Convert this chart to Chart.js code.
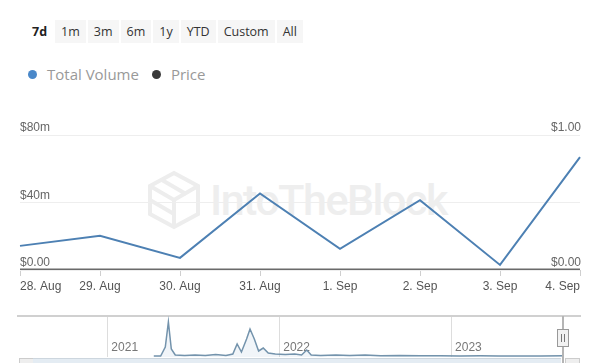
<!DOCTYPE html>
<html>
<head>
<meta charset="utf-8">
<script src="https://cdn.jsdelivr.net/npm/chart.js@4.4.1/dist/chart.umd.min.js"></script>
<style>
  html, body { margin: 0; padding: 0; background: #fff; }
  body { width: 600px; height: 363px; position: relative; overflow: hidden; font-family: "Open Sans", sans-serif; }
  .ranges { position: absolute; left: 26px; top: 20px; display: flex; gap: 2px; }
  .ranges span { display: block; height: 23px; line-height: 23px; padding: 0 6px; background: #f6f6f6; font-size: 12.5px; color: #333; }
  .ranges span.on { font-weight: bold; color: #222; background: #fff; }
  .legend { position: absolute; left: 28px; top: 64px; display: flex; align-items: center; font-size: 15px; color: #999; }
  .legend i { display: inline-block; width: 9px; height: 9px; border-radius: 50%; margin-right: 10px; }
  .watermark { position: absolute; left: 146px; top: 170px; display: flex; align-items: center; color: #eeeeee; font-family: Roboto, sans-serif; font-weight: 500; font-size: 43px; letter-spacing: -1.5px; }
  #main { position: absolute; left: 0; top: 100px; }
  #nav { position: absolute; left: 0; top: 300px; }
  .handle-line { position: absolute; left: 562px; top: 316px; width: 2px; height: 47px; background: #b5b5b5; }
  .handle { position: absolute; left: 557px; top: 329px; width: 10px; height: 16px; background: #f2f2f2; border: 1px solid #999; }
  .handle:before, .handle:after { content: ""; position: absolute; top: 4px; width: 1px; height: 8px; background: #777; }
  .handle:before { left: 3px; } .handle:after { left: 6px; }
  .scroll { position: absolute; left: 33px; top: 358px; width: 528px; height: 6px; background: #e4ecf3; border-top: 1px solid #cdd6de; }
  .sbtn { position: absolute; top: 358px; width: 13px; height: 6px; background: #eee; border: 1px solid #ccc; }
</style>
</head>
<body>
<div class="ranges">
  <span class="on">7d</span><span>1m</span><span>3m</span><span>6m</span><span>1y</span><span>YTD</span><span>Custom</span><span>All</span>
</div>
<div class="legend">
  <i style="background:#4a88c9"></i><span>Total Volume</span>
  <i style="background:#3a3a3a;margin-left:13px"></i><span>Price</span>
</div>
<div class="watermark">
  <svg width="56" height="60" viewBox="0 0 56 60" style="margin-right:8px">
    <g fill="none" stroke="#ededed" stroke-width="4">
      <polygon points="28,3 52,16 52,44 28,57 4,44 4,16"/>
      <polyline points="4,16 28,30 52,16"/>
      <line x1="28" y1="30" x2="28" y2="57"/>
      <line x1="16" y1="10" x2="40" y2="24"/>
      <line x1="4" y1="30" x2="28" y2="44"/>
    </g>
  </svg>
  <span>IntoTheBlock</span>
</div>
<canvas id="main" width="600" height="200"></canvas>
<canvas id="nav" width="600" height="63"></canvas>
<div class="handle-line"></div>
<div class="handle"></div>
<div class="sbtn" style="left:19px"></div>
<div class="scroll"></div>
<div class="sbtn" style="left:565px"></div>

<script>
// 7d view
const dayLabels = ['28. Aug', '29. Aug', '30. Aug', '31. Aug', '1. Sep', '2. Sep', '3. Sep', '4. Sep'];
const totalVolume = [14.3, 20.3, 7.2, 45.4, 12.5, 41.4, 3.0, 66.9];   // $m
const price = [0.004, 0.004, 0.004, 0.004, 0.004, 0.004, 0.004, 0.004]; // $
const volumeTicks = [0, 40, 80];
const priceTicks = [0, 1];

// navigator (whole history, decimal years / $m)
const navYears = [2021.27, 2021.31, 2021.337, 2021.355, 2021.372, 2021.395, 2021.45, 2021.51, 2021.57, 2021.63,
  2021.69, 2021.73, 2021.755, 2021.78, 2021.81, 2021.83, 2021.855, 2021.88, 2021.907, 2021.936,
  2021.977, 2022.035, 2022.09, 2022.13, 2022.16, 2022.186, 2022.24, 2022.33, 2022.41, 2022.5,
  2022.59, 2022.70, 2022.82, 2022.94, 2023.05, 2023.17, 2023.28, 2023.40, 2023.52, 2023.65];
const navVolume = [50, 50, 500, 1750, 400, 100, 75, 100, 75, 125,
  75, 150, 650, 250, 900, 1400, 900, 300, 450, 200,
  150, 125, 150, 100, 350, 100, 75, 100, 75, 100,
  60, 75, 60, 65, 50, 60, 50, 55, 50, 65];
const yearTicks = [2021, 2022, 2023];

const fmtVol = v => v === 0 ? '$0.00' : '$' + v + 'm';
const fmtPrice = v => '$' + v.toFixed(2);

new Chart(document.getElementById('main'), {
  type: 'line',
  data: {
    labels: dayLabels,
    datasets: [
      { label: 'Total Volume', data: totalVolume, yAxisID: 'y', borderColor: '#4d80b3', borderWidth: 2, pointRadius: 0, tension: 0, order: 1 },
      { label: 'Price', data: price, yAxisID: 'y1', borderColor: '#6a6a6a', borderWidth: 2, pointRadius: 0, tension: 0, order: 2 }
    ]
  },
  options: {
    responsive: false,
    animation: false,
    layout: { padding: { left: 20, right: 20, top: 35, bottom: 0 } },
    plugins: { legend: { display: false }, tooltip: { enabled: false } },
    scales: {
      x: {
        offset: false,
        grid: { drawOnChartArea: false, drawTicks: true, tickLength: 6, color: '#cfcfcf' },
        border: { display: false },
        ticks: { align: 'inner', maxRotation: 0, autoSkip: false, padding: 3, color: '#555', font: { family: 'Liberation Sans', size: 12 } },
        afterFit: s => { s.height = 30; }
      },
      y: {
        position: 'left', min: 0, max: 80,
        afterBuildTicks: s => { s.ticks = volumeTicks.map(v => ({ value: v })); },
        grid: { color: '#eeeeee', drawTicks: false },
        border: { display: false },
        ticks: { mirror: true, padding: 0, labelOffset: -7, color: '#666', font: { family: 'Liberation Sans', size: 12 }, callback: fmtVol },
        afterFit: s => { s.width = 0; }
      },
      y1: {
        position: 'right', min: 0, max: 1,
        afterBuildTicks: s => { s.ticks = priceTicks.map(v => ({ value: v })); },
        grid: { display: false },
        border: { display: false },
        ticks: { mirror: true, padding: 1, labelOffset: -7, color: '#666', font: { family: 'Liberation Sans', size: 12 }, callback: fmtPrice },
        afterFit: s => { s.width = 0; }
      }
    }
  }
});

new Chart(document.getElementById('nav'), {
  type: 'line',
  data: {
    datasets: [{
      data: navYears.map((x, i) => ({ x: x, y: navVolume[i] })),
      borderColor: '#7393ac', borderWidth: 1.5, pointRadius: 0, tension: 0,
      fill: 'origin', backgroundColor: 'rgba(120,160,200,0.10)'
    }]
  },
  options: {
    responsive: false,
    animation: false,
    layout: { padding: { left: 18, right: 20, top: 16, bottom: 0 } },
    plugins: { legend: { display: false }, tooltip: { enabled: false } },
    scales: {
      x: {
        type: 'linear', min: 2020.48, max: 2023.75,
        afterBuildTicks: s => { s.ticks = yearTicks.map(v => ({ value: v })); },
        grid: { color: '#dddddd', drawTicks: false },
        border: { display: false },
        ticks: { mirror: true, align: 'start', autoSkip: false, padding: 2, labelOffset: 4, color: '#777', font: { family: 'Liberation Sans', size: 12 }, callback: v => String(v) },
        afterFit: s => { s.height = 6; }
      },
      xTop: {
        type: 'linear', position: 'top', min: 2020.48, max: 2023.75,
        grid: { display: false },
        border: { display: true, color: '#d0d0d0', width: 2 },
        ticks: { display: false },
        afterFit: s => { s.height = 0; }
      },
      y: { display: false, min: 0, max: 2050 }
    }
  }
});
</script>
</body>
</html>
